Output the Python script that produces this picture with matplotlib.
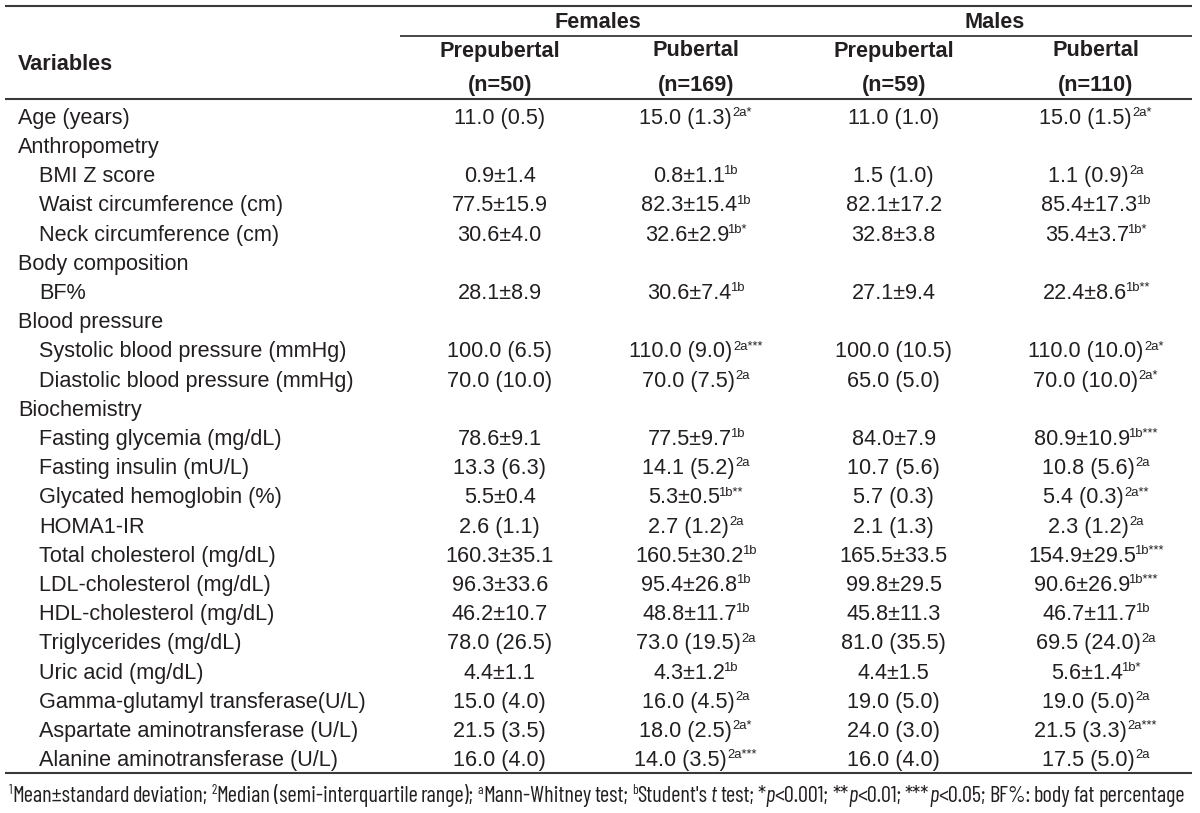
#!/usr/bin/env python3
"""Table of anthropometric and biochemical variables by sex and pubertal stage."""

import matplotlib

matplotlib.use("Agg")
import matplotlib.pyplot as plt
from matplotlib import font_manager

# ---- table content -------------------------------------------------------
groups = ["Females", "Males"]
stages = ["Prepubertal", "Pubertal", "Prepubertal", "Pubertal"]
group_sizes = ["(n=50)", "(n=169)", "(n=59)", "(n=110)"]

variables = [
    "Age (years)",
    "Anthropometry",
    "BMI Z score",
    "Waist circumference (cm)",
    "Neck circumference (cm)",
    "Body composition",
    "BF%",
    "Blood pressure",
    "Systolic blood pressure (mmHg)",
    "Diastolic blood pressure (mmHg)",
    "Biochemistry",
    "Fasting glycemia (mg/dL)",
    "Fasting insulin (mU/L)",
    "Glycated hemoglobin (%)",
    "HOMA1-IR",
    "Total cholesterol (mg/dL)",
    "LDL-cholesterol (mg/dL)",
    "HDL-cholesterol (mg/dL)",
    "Triglycerides (mg/dL)",
    "Uric acid (mg/dL)",
    "Gamma-glutamyl transferase(U/L)",
    "Aspartate aminotransferase (U/L)",
    "Alanine aminotransferase (U/L)",
]
indented = [False, False, True, True, True, False, True, False, True, True, False,
            True, True, True, True, True, True, True, True, True, True, True, True]

fem_pre = ["11.0 (0.5)", "", "0.9±1.4", "77.5±15.9", "30.6±4.0", "", "28.1±8.9", "",
           "100.0 (6.5)", "70.0 (10.0)", "", "78.6±9.1", "13.3 (6.3)", "5.5±0.4",
           "2.6 (1.1)", "160.3±35.1", "96.3±33.6", "46.2±10.7", "78.0 (26.5)",
           "4.4±1.1", "15.0 (4.0)", "21.5 (3.5)", "16.0 (4.0)"]
fem_pub = ["15.0 (1.3)", "", "0.8±1.1", "82.3±15.4", "32.6±2.9", "", "30.6±7.4", "",
           "110.0 (9.0)", "70.0 (7.5)", "", "77.5±9.7", "14.1 (5.2)", "5.3±0.5",
           "2.7 (1.2)", "160.5±30.2", "95.4±26.8", "48.8±11.7", "73.0 (19.5)",
           "4.3±1.2", "16.0 (4.5)", "18.0 (2.5)", "14.0 (3.5)"]
fem_pub_sup = ["2a*", "", "1b", "1b", "1b*", "", "1b", "",
               "2a***", "2a", "", "1b", "2a", "1b**",
               "2a", "1b", "1b", "1b", "2a",
               "1b", "2a", "2a*", "2a***"]
male_pre = ["11.0 (1.0)", "", "1.5 (1.0)", "82.1±17.2", "32.8±3.8", "", "27.1±9.4", "",
            "100.0 (10.5)", "65.0 (5.0)", "", "84.0±7.9", "10.7 (5.6)", "5.7 (0.3)",
            "2.1 (1.3)", "165.5±33.5", "99.8±29.5", "45.8±11.3", "81.0 (35.5)",
            "4.4±1.5", "19.0 (5.0)", "24.0 (3.0)", "16.0 (4.0)"]
male_pub = ["15.0 (1.5)", "", "1.1 (0.9)", "85.4±17.3", "35.4±3.7", "", "22.4±8.6", "",
            "110.0 (10.0)", "70.0 (10.0)", "", "80.9±10.9", "10.8 (5.6)", "5.4 (0.3)",
            "2.3 (1.2)", "154.9±29.5", "90.6±26.9", "46.7±11.7", "69.5 (24.0)",
            "5.6±1.4", "19.0 (5.0)", "21.5 (3.3)", "17.5 (5.0)"]
male_pub_sup = ["2a*", "", "2a", "1b", "1b*", "", "1b**", "",
                "2a*", "2a*", "", "1b***", "2a", "2a**",
                "2a", "1b***", "1b***", "1b", "2a",
                "1b*", "2a", "2a***", "2a"]

footnote = [
    ("1", "sup"), ("Mean±standard", "n"), (" ", "sp"), ("deviation;", "n"),
    (" ", "sp"), ("2", "sup"), ("Median", "n"), (" ", "sp"),
    ("(semi-interquartile", "n"), (" ", "sp"), ("range);", "n"),
    (" ", "sp"), ("a", "sup"), ("Mann-Whitney", "n"), (" ", "sp"), ("test;", "n"),
    (" ", "sp"), ("b", "sup"), ("Student's", "n"), (" ", "sp"), ("t", "i"),
    (" ", "sp"), ("test;", "n"),
    (" ", "sp"), ("*", "n"), ("p", "i"), ("<0.001;", "n"),
    (" ", "sp"), ("**", "n"), ("p", "i"), ("<0.01;", "n"),
    (" ", "sp"), ("***", "n"), ("p", "i"), ("<0.05;", "n"),
    (" ", "sp"), ("BF%:", "n"), (" ", "sp"), ("body", "n"), (" ", "sp"),
    ("fat", "n"), (" ", "sp"), ("percentage", "n"),
]

# ---- layout --------------------------------------------------------------
W, H = 1200, 813
FONT = "Liberation Sans"
FS = 15.6
INK = "#231f20"
RULE = "#3a3a3a"

col_x = [500, 696, 894, 1096]
group_x = [598, 995]
row_top = 116
row_step = 29.2


def px(fs):
    return fs * 100 / 72.0


fig = plt.figure(figsize=(W / 100, H / 100), dpi=100)
ax = fig.add_axes([0, 0, 1, 1])
ax.set_xlim(0, W)
ax.set_ylim(H, 0)
ax.axis("off")
renderer = fig.canvas.get_renderer()


def width_of(artist):
    return artist.get_window_extent(renderer).width


def draw_runs(x, y_base, runs, fs, family=FONT, stretch="normal",
              space_scale=1.0, pad=0.5):
    """Draw text runs left to right from x; returns artists and total width."""
    probe_a = ax.text(0, 0, "x x", fontsize=fs, family=family, stretch=stretch)
    probe_b = ax.text(0, 0, "xx", fontsize=fs, family=family, stretch=stretch)
    space = (width_of(probe_a) - width_of(probe_b)) * space_scale
    probe_a.remove()
    probe_b.remove()

    artists = []
    cur = x
    for txt, kind in runs:
        if kind == "sp":
            cur += space
            continue
        if kind == "sup":
            if txt.startswith("1"):
                cur -= 2.5 * fs / FS
            t = ax.text(cur, y_base - 0.36 * px(fs), txt, fontsize=fs * 0.6,
                        family=family, stretch=stretch, color=INK,
                        ha="left", va="baseline")
        else:
            t = ax.text(cur, y_base, txt, fontsize=fs, family=family,
                        stretch=stretch, color=INK, ha="left", va="baseline",
                        style="italic" if kind == "i" else "normal")
        cur += width_of(t) + pad
        artists.append(t)
    return artists, cur - x


def centered_cell(xc, y_center, main, sup):
    runs = [(main, "n")]
    if sup:
        runs.append((sup, "sup"))
    base = y_center + 0.358 * px(FS)
    artists, total = draw_runs(0, base, runs, FS)
    shift = xc - total / 2
    for a in artists:
        a.set_x(a.get_position()[0] + shift)


# rules
ax.plot([5, 1192], [6.5, 6.5], color=RULE, lw=1.5, solid_capstyle="butt")
ax.plot([400, 1192], [36, 36], color=RULE, lw=1.3, solid_capstyle="butt")
ax.plot([5, 1192], [99, 99], color=RULE, lw=1.5, solid_capstyle="butt")
ax.plot([5, 1192], [773, 773], color=RULE, lw=1.5, solid_capstyle="butt")

# header
ax.text(18, 64, "Variables", fontsize=FS, family=FONT, weight="bold",
        color=INK, ha="left", va="center")
for gx, g in zip(group_x, groups):
    ax.text(gx, 22, g, fontsize=FS, family=FONT, weight="bold", color=INK,
            ha="center", va="center")
for cx, st, n in zip(col_x, stages, group_sizes):
    ax.text(cx, 51, st, fontsize=FS, family=FONT, weight="bold", color=INK,
            ha="center", va="center")
    ax.text(cx, 86, n, fontsize=FS, family=FONT, weight="bold", color=INK,
            ha="center", va="center")

# body
for i, name in enumerate(variables):
    yc = row_top + i * row_step
    ax.text(39 if indented[i] else 18, yc + 0.358 * px(FS), name, fontsize=FS,
            family=FONT, color=INK, ha="left", va="baseline")
    columns = [(fem_pre[i], ""), (fem_pub[i], fem_pub_sup[i]),
               (male_pre[i], ""), (male_pub[i], male_pub_sup[i])]
    for cx, (val, sup) in zip(col_x, columns):
        if val:
            centered_cell(cx, yc, val, sup)

# footnote in a narrow face, fitted to the table width
names = {f.name for f in font_manager.fontManager.ttflist}
foot_family = FONT
for cand in ["Barlow Condensed", "Roboto Condensed", "PT Sans Narrow"]:
    if cand in names:
        foot_family = cand
        break
foot_stretch = "normal" if foot_family == FONT else "condensed"
fs_foot = 12.0
arts, wtot = draw_runs(0, 0, footnote, fs_foot, foot_family, foot_stretch,
                       space_scale=0.75, pad=0.0)
for a in arts:
    a.remove()
fs_foot *= 1168.0 / wtot
draw_runs(11, 794 + 0.358 * px(fs_foot), footnote, fs_foot, foot_family,
          foot_stretch, space_scale=0.75, pad=0.0)

fig.savefig("out.png", dpi=100)
